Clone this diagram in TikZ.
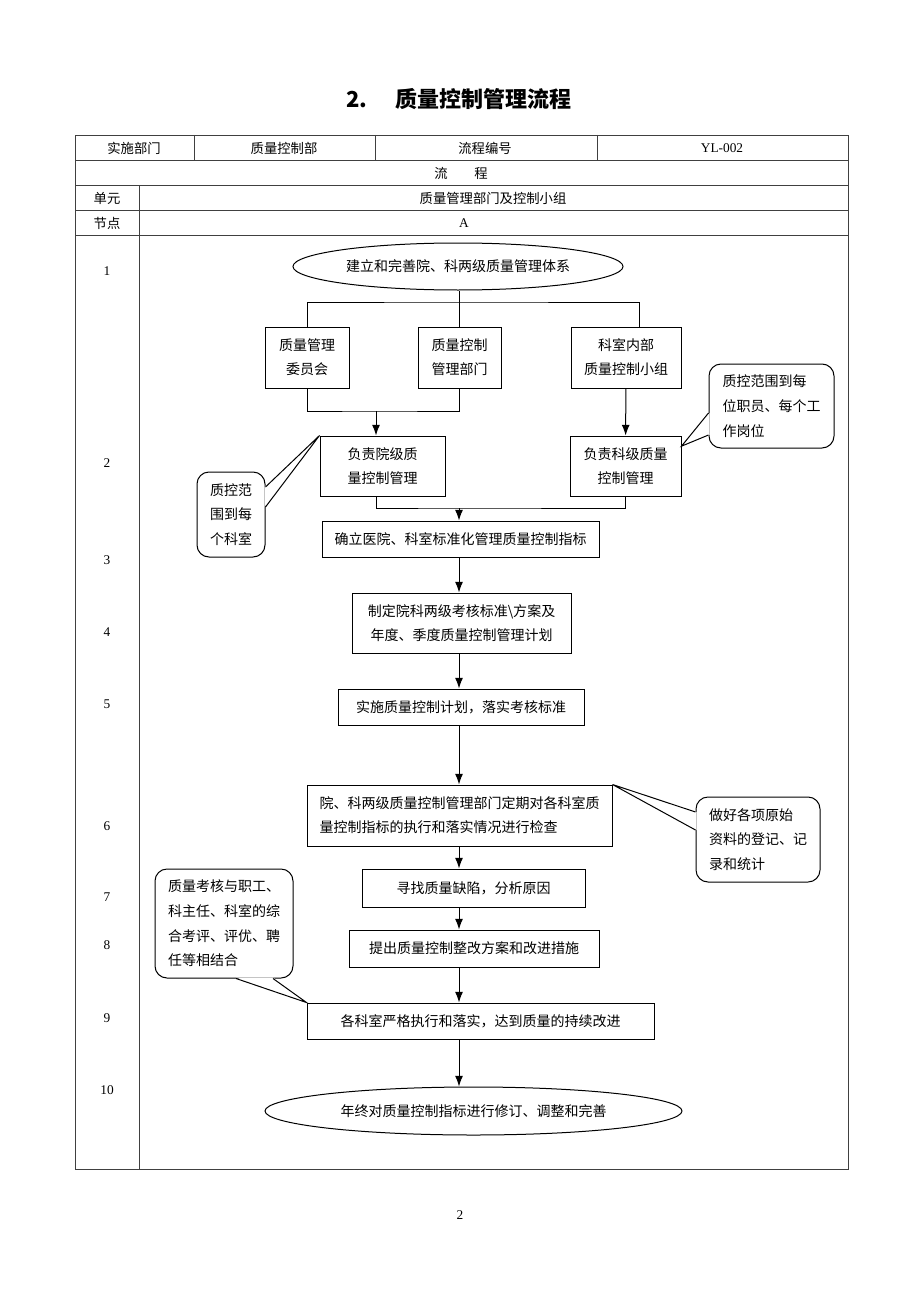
\documentclass[tikz,border=0pt]{standalone}
\usepackage{fontspec}
\setmainfont{Liberation Serif}
\newfontfamily\cjk{Noto Sans CJK SC}
\usetikzlibrary{arrows.meta,shapes.geometric,calc}

\begin{document}
\begin{tikzpicture}[x=0.75pt, y=-0.75pt, >={Latex[length=8pt,width=6pt]},
        every node/.style={font=\cjk\fontsize{10.5}{18}\selectfont},
        box/.style={draw, line width=0.75pt, align=center, inner sep=0pt},
        term/.style={draw, ellipse, line width=0.75pt, inner sep=0pt},
        note/.style={draw, line width=0.75pt, rounded corners=9pt, fill=white, align=left, inner sep=0pt,
            font=\cjk\fontsize{10.5}{18.5}\selectfont},
        link/.style={line width=0.75pt},
        arr/.style={line width=0.75pt, ->},
        tableline/.style={line width=0.6pt, black!75},
        cell/.style={font=\cjk\fontsize{10}{12}\selectfont},
        num/.style={font=\rmfamily\fontsize{10}{12}\selectfont}]
        \useasboundingbox (0,0) rectangle (920,1302);

        % Title
        \node[font=\cjk\bfseries\fontsize{16.5}{20}\selectfont] (title) at (459,99) {2.\hspace{21pt}质量控制管理流程};

        % Table frame and rows
        \draw[tableline] (75,135) rectangle (848,1169);
        \foreach \y in {160,185,210,235}
            \draw[tableline] (75,\y) -- (848,\y);
        \foreach \x in {194,375,597}
            \draw[tableline] (\x,135) -- (\x,160);
        \draw[tableline] (139,185) -- (139,1169);

        % Table texts
        \node[cell] (dept) at (134,148) {实施部门};
        \node[cell] (deptname) at (284,148) {质量控制部};
        \node[cell] (code) at (485,148) {流程编号};
        \node[num] (codeno) at (722,148) {YL-002};
        \node[cell] (flow) at (461,173) {流\hspace{20pt}程};
        \node[cell] (unit) at (107,198) {单元};
        \node[cell] (unitname) at (493,198) {质量管理部门及控制小组};
        \node[cell] (point) at (107,223) {节点};
        \node[num] (pointname) at (464,223) {A};

        % Step numbers
        \foreach \n/\y in {1/271, 2/463, 3/560, 4/632, 5/704, 6/826, 7/897, 8/945, 9/1018, 10/1090}
            \node[num] (step\n) at (107,\y) {\n};

        % Flow nodes
        \node[term, minimum width=247.5pt, minimum height=35.25pt] (start) at (458,266.5) {建立和完善院、科两级质量管理体系};
        \node[box, minimum width=63pt, minimum height=45.75pt] (qmc) at (307,357.5) {质量管理\\委员会};
        \node[box, minimum width=62.25pt, minimum height=45.75pt] (qcd) at (459.5,357.5) {质量控制\\管理部门};
        \node[box, minimum width=82.5pt, minimum height=45.75pt] (grp) at (626,357.5) {科室内部\\质量控制小组};
        \node[box, minimum width=93.75pt, minimum height=45pt] (hosp) at (382.5,466) {负责院级质\\量控制管理};
        \node[box, minimum width=83.25pt, minimum height=45pt] (dep) at (625.5,466) {负责科级质量\\控制管理};
        \node[box, minimum width=207.75pt, minimum height=27pt] (index) at (460.5,539) {确立医院、科室标准化管理质量控制指标};
        \node[box, minimum width=164.25pt, minimum height=45pt] (plan) at (461.5,623) {制定院科两级考核标准\textbackslash 方案及\\年度、季度质量控制管理计划};
        \node[box, minimum width=184.5pt, minimum height=27pt] (run) at (461,707) {实施质量控制计划，落实考核标准};
        \node[box, align=left, minimum width=228.75pt, minimum height=45.75pt] (check) at (459.5,815.5) {院、科两级质量控制管理部门定期对各科室质\\量控制指标的执行和落实情况进行检查};
        \node[box, minimum width=167.25pt, minimum height=28.5pt] (defect) at (473.5,888) {寻找质量缺陷，分析原因};
        \node[box, minimum width=187.5pt, minimum height=27.75pt] (measure) at (474,948.5) {提出质量控制整改方案和改进措施};
        \node[box, minimum width=260.25pt, minimum height=27pt] (improve) at (480.5,1021) {各科室严格执行和落实，达到质量的持续改进};
        \node[term, minimum width=312.75pt, minimum height=36pt] (revise) at (473.5,1111) {年终对质量控制指标进行修订、调整和完善};

        % Branch and merge points
        \coordinate (axis) at (459,0);
        \coordinate (split) at (459,302);
        \coordinate (joinA) at (376,411);
        \coordinate (joinB) at (459,508);

        % Connectors
        \draw[link] (start.south -| axis) -- (split);
        \draw[link] (qmc.north) |- (split) -| ([xshift=10pt]grp.north);
        \draw[link] (qcd.north -| axis) -- (split);
        \draw[link] (qmc.south) |- (joinA) -| (qcd.south);
        \draw[arr] (joinA) -- (hosp.north -| joinA);
        \draw[arr] (grp) -- (dep);
        \draw[link] (hosp.south -| joinA) |- (joinB) -| (dep.south);
        \draw[arr] (joinB) -- (index.north -| joinB);
        \foreach \a/\b in {index/plan, plan/run, run/check, check/defect, defect/measure, measure/improve, improve/revise}
            \draw[arr] (\a.south -| axis) -- (\b.north -| axis);

        % Callouts
        \node[note, minimum width=51pt, minimum height=63.75pt] (noteA) at (231,514.5) {质控范\\围到每\\个科室};
        \node[note, minimum width=93.75pt, minimum height=63pt] (noteB) at (771.5,406) {质控范围到每\\位职员、每个工\\作岗位};
        \node[note, minimum width=93pt, minimum height=63.75pt] (noteC) at (758,839.5) {做好各项原始\\资料的登记、记\\录和统计};
        \node[note, minimum width=103.5pt, minimum height=81.75pt] (noteD) at (224,923.5) {质量考核与职工、\\科主任、科室的综\\合考评、评优、聘\\任等相结合};

        % Callout pointers
        \path (noteA.east |- 0,487) coordinate (a1) (noteA.east |- 0,507) coordinate (a2);
        \fill[white] ($(a1)+(-1,0)$) -- (hosp.north west) -- ($(a2)+(-1,0)$) -- cycle;
        \draw[link] (a1) -- (hosp.north west) -- (a2);

        \path (noteB.west |- 0,413) coordinate (b1) (noteB.west |- 0,435) coordinate (b2);
        \fill[white] ($(b1)+(1,0)$) -- ([yshift=-8pt]dep.north east) -- ($(b2)+(1,0)$) -- cycle;
        \draw[link] (b1) -- ([yshift=-8pt]dep.north east) -- (b2);

        \path (noteC.west |- 0,812) coordinate (c1) (noteC.west |- 0,830) coordinate (c2);
        \fill[white] ($(c1)+(1,0)$) -- (check.north east) -- ($(c2)+(1,0)$) -- cycle;
        \draw[link] (c1) -- (check.north east) -- (c2);

        \path (noteD.south -| 236,0) coordinate (d1) (noteD.south -| 273,0) coordinate (d2);
        \fill[white] ($(d1)+(0,-1)$) -- (improve.north west) -- ($(d2)+(0,-1)$) -- cycle;
        \draw[link] (d1) -- (improve.north west) -- (d2);

        % Page number
        \node[num] (page) at (460,1215) {2};
\end{tikzpicture}
\end{document}
